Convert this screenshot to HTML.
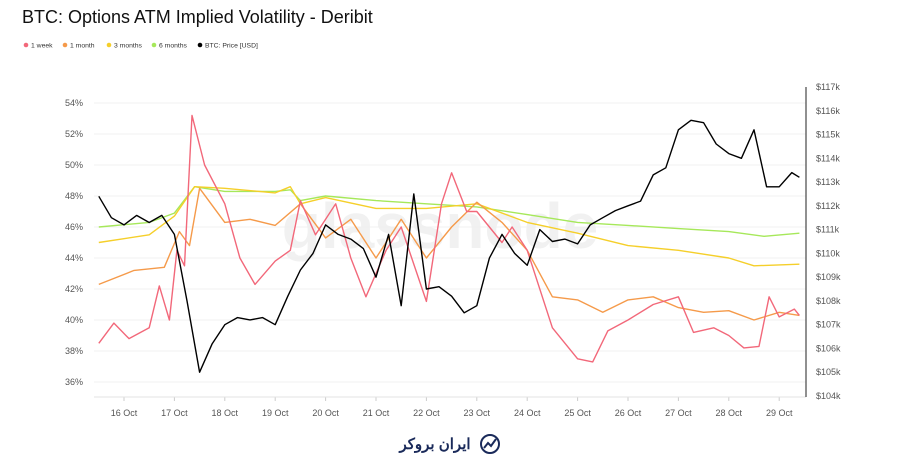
<!DOCTYPE html>
<html><head><meta charset="utf-8"><style>
body{margin:0;background:#fff;width:900px;height:471px;overflow:hidden;font-family:"Liberation Sans",sans-serif}
</style></head><body>
<svg width="900" height="471" id="c" xmlns="http://www.w3.org/2000/svg">
<text x="22" y="23" font-size="18" fill="#111">BTC: Options ATM Implied Volatility - Deribit</text>
<g id="legend" font-size="6.8" fill="#333"></g>
<text x="440" y="248" font-size="64" fill="#f1f1f1" text-anchor="middle" font-weight="bold">glassnode</text>
<g id="grid"></g><g id="series"></g><g id="axes" font-size="9" fill="#555"></g>
<g>
<text x="435" y="449" font-size="15" font-weight="bold" fill="#1a2a5a" text-anchor="middle" font-family="'Liberation Sans','Noto Sans CJK SC',sans-serif">ایران بروکر</text>
<circle cx="490" cy="444" r="9" fill="none" stroke="#1a2a5a" stroke-width="2"/>
<path d="M484 448 L488 443 L491 446 L496 439" fill="none" stroke="#1a2a5a" stroke-width="2"/>
</g>
</svg>
<script>
const priceDays=[15.5,15.75,16,16.25,16.5,16.75,17,17.25,17.5,17.75,18,18.25,18.5,18.75,19,19.25,19.5,19.75,20,20.25,20.5,20.75,21,21.25,21.5,21.75,22,22.25,22.5,22.75,23,23.25,23.5,23.75,24,24.25,24.5,24.75,25,25.25,25.5,25.75,26,26.25,26.5,26.75,27,27.25,27.5,27.75,28,28.25,28.5,28.75,29,29.25,29.4];
const priceVals=[112.4,111.5,111.2,111.6,111.3,111.6,110.8,108.0,105.0,106.2,107.0,107.3,107.2,107.3,107.0,108.2,109.3,110.0,111.2,110.8,110.6,110.2,109.0,110.8,107.8,112.5,108.5,108.6,108.2,107.5,107.8,109.8,110.8,110.0,109.5,111.0,110.5,110.6,110.4,111.2,111.5,111.8,112.0,112.2,113.3,113.6,115.2,115.6,115.5,114.6,114.2,114.0,115.2,112.8,112.8,113.4,113.2];
const m6Days=[15.5,16.5,17,17.4,18,19,19.3,19.5,20,21,22,23,24,25,26,27,28,28.7,29.4];
const m6Vals=[46,46.3,46.9,48.6,48.3,48.3,48.4,47.7,48,47.7,47.5,47.3,46.8,46.3,46.1,45.9,45.7,45.4,45.6];
const m3Days=[15.5,16.5,17,17.4,18,19,19.3,19.5,20,21,22,23,24,25,26,27,28,28.5,29.4];
const m3Vals=[45,45.5,46.7,48.6,48.5,48.2,48.6,47.5,47.9,47.2,47.2,47.5,46.3,45.6,44.8,44.5,44,43.5,43.6];
const m1Days=[15.5,16.2,16.8,17.1,17.3,17.5,18,18.5,19,19.5,20,20.5,21,21.5,22,22.5,23,23.5,24,24.5,25,25.5,26,26.5,27,27.5,28,28.5,29,29.4];
const m1Vals=[42.3,43.2,43.4,45.7,44.8,48.5,46.3,46.5,46.1,47.5,45.3,46.5,44,46.5,44,46,47.6,46.3,44.5,41.5,41.3,40.5,41.3,41.5,40.8,40.5,40.6,40,40.5,40.3];
const w1Days=[15.5,15.8,16.1,16.5,16.7,16.9,17.05,17.2,17.35,17.6,18,18.3,18.6,19,19.3,19.5,19.8,20.2,20.5,20.8,21.2,21.5,22,22.3,22.5,22.8,23,23.5,23.7,24,24.5,25,25.3,25.6,26,26.5,27,27.3,27.7,28,28.3,28.6,28.8,29,29.3,29.4];
const w1Vals=[38.5,39.8,38.8,39.5,42.2,40,44.5,43.5,53.2,50,47.5,44,42.3,43.8,44.5,47.7,45.5,47.5,44,41.5,44.5,46,41.2,47.5,49.5,47,47,45,46,44.5,39.5,37.5,37.3,39.3,40,41,41.5,39.2,39.5,39,38.2,38.3,41.5,40.2,40.7,40.3];
const pctTicks=[36,38,40,42,44,46,48,50,52,54];
const priceTicks=[104,105,106,107,108,109,110,111,112,113,114,115,116,117];
const dateTicks=[16,17,18,19,20,21,22,23,24,25,26,27,28,29];
const NS="http://www.w3.org/2000/svg";
const X=d=>124+(d-16)*50.4;
const YL=v=>103+(54-v)*15.5;
const YR=p=>87+(117-p)*23.77;
function el(t,a,p){const e=document.createElementNS(NS,t);for(const k in a)e.setAttribute(k,a[k]);p.appendChild(e);return e;}
const grid=document.getElementById('grid'),axes=document.getElementById('axes'),ser=document.getElementById('series'),leg=document.getElementById('legend');
pctTicks.forEach(v=>{
 const l=el('line',{x1:94,x2:806,y1:YL(v),y2:YL(v),stroke:'#f0f0f0'},grid);
 
 
 const t=el('text',{x:83,y:YL(v)+3,'text-anchor':'end'},axes);t.textContent=v+'%';
 
 
});
priceTicks.forEach(v=>{
 const t=el('text',{x:816,y:YR(v)+3},axes);t.textContent='$'+v+'k';
 
 
});
dateTicks.forEach(d=>{
 const t=el('text',{x:X(d),y:416,'text-anchor':'middle'},axes);t.textContent=d+' Oct';
 
 
 el('line',{x1:X(d),x2:X(d),y1:397,y2:401,stroke:'#ccc'},axes);
});
el('line',{x1:94,x2:806,y1:397,y2:397,stroke:'#e3e3e3'},axes);
el('line',{x1:806,x2:806,y1:87,y2:397,stroke:'#222'},axes);
function line(days,vals,y,color,name){
 const p=el('polyline',{points:days.map((d,i)=>X(d).toFixed(1)+','+y(vals[i]).toFixed(1)).join(' '),fill:'none',stroke:color,'stroke-width':1.4,'stroke-linejoin':'round'},ser);
 
 
}
line(m6Days,m6Vals,YL,'#a6e85a','series-6-months');
line(m3Days,m3Vals,YL,'#f5cf2a','series-3-months');
line(m1Days,m1Vals,YL,'#f59a4a','series-1-month');
line(w1Days,w1Vals,YL,'#f2687a','series-1-week');
line(priceDays,priceVals,YR,'#000','series-btc-price');
const legItems=[['1 week','#f2687a',24],['1 month','#f59a4a',63],['3 months','#f5cf2a',107],['6 months','#a6e85a',152],['BTC: Price [USD]','#000',198]];
legItems.forEach(([n,c,x])=>{
 const g=el('g',{},leg);
 
 
 el('circle',{cx:x+2,cy:45,r:2.3,fill:c},g);
 const t=el('text',{x:x+7,y:47.5},g);t.textContent=n;
});
</script>
</body></html>
